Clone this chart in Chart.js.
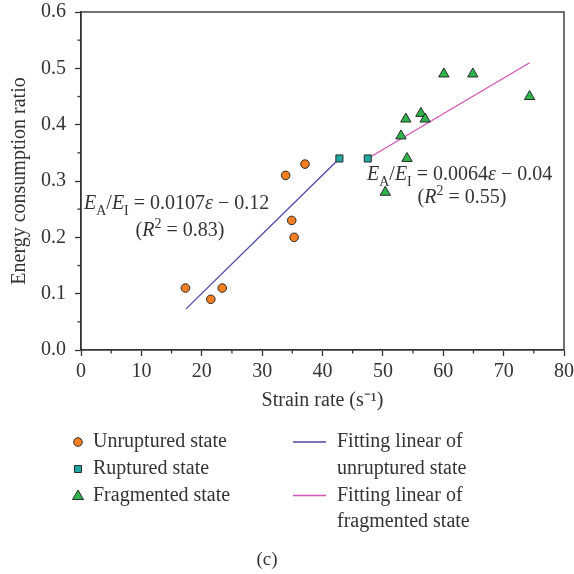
<!DOCTYPE html>
<html><head><meta charset="utf-8">
<script src="https://cdn.jsdelivr.net/npm/chart.js@4/dist/chart.umd.min.js"></script>
<style>
html,body{margin:0;padding:0;background:#fff;}
#wrap{position:relative;width:574px;height:574px;}
</style></head><body>
<div id="wrap"><canvas id="c" width="574" height="574"></canvas></div>
<script>
// ---- data ----
const unrupturedX = [17.3, 21.5, 23.4, 33.9, 37.1, 34.9, 35.3];
const unrupturedY = [0.11, 0.09, 0.11, 0.31, 0.33, 0.23, 0.20];
const rupturedX = [42.8, 47.5];
const rupturedY = [0.34, 0.34];
const fragmentedX = [50.4, 53.0, 53.8, 54.0, 56.3, 57.0, 60.1, 64.9, 74.3];
const fragmentedY = [0.28, 0.38, 0.41, 0.34, 0.42, 0.41, 0.49, 0.49, 0.45];
const fitUnrupturedX = [17.4, 42.8];
const fitUnrupturedY = [0.073, 0.34];
const fitFragmentedX = [47.5, 74.3];
const fitFragmentedY = [0.34, 0.51];
const xTicks = [0, 10, 20, 30, 40, 50, 60, 70, 80];
const yTicks = [0.0, 0.1, 0.2, 0.3, 0.4, 0.5, 0.6];
const seriesLabels = ["Unruptured state", "Ruptured state", "Fragmented state",
  "Fitting linear of unruptured state", "Fitting linear of fragmented state"];
const eq1 = {k: "0.0107", b: "0.12", r2: "0.83"};
const eq2 = {k: "0.0064", b: "0.04", r2: "0.55"};
const caption = "(c)";

const FONT = '"Liberation Serif", "Times New Roman", serif';
const TXT = '#333333';
const FS = 20;
const toPts = (xs, ys) => xs.map((x, i) => ({x, y: ys[i]}));

const COLORS = {
  unruptured: '#F47E20', ruptured: '#1FA8A0', fragmented: '#2DB34A',
  fit1: '#4A44A8', fit2: '#D354B6', edge: '#2b2b2b'
};

function drawMarker(ctx, style, x, y, fill) {
  ctx.save();
  ctx.fillStyle = fill; ctx.strokeStyle = COLORS.edge; ctx.lineWidth = 1;
  ctx.beginPath();
  if (style === 'circle') ctx.arc(x, y, 4.3, 0, Math.PI * 2);
  else if (style === 'rect') ctx.rect(x - 3.5, y - 3.5, 7, 7);
  else { ctx.moveTo(x, y - 5.5); ctx.lineTo(x + 5.5, y + 4); ctx.lineTo(x - 5.5, y + 4); ctx.closePath(); }
  ctx.fill(); ctx.stroke(); ctx.restore();
}

// draw rich text parts: {t, it, sub, sup}
function drawRich(ctx, parts, x, y, size, align) {
  const base = size, small = Math.round(size * 0.68);
  const fontFor = p => (p.it ? 'italic ' : '') + (p.sub || p.sup ? small : base) + 'px ' + FONT;
  let w = 0;
  parts.forEach(p => { ctx.font = fontFor(p); w += ctx.measureText(p.t).width; });
  let cx = align === 'center' ? x - w / 2 : x;
  ctx.textAlign = 'left'; ctx.textBaseline = 'alphabetic'; ctx.fillStyle = TXT;
  parts.forEach(p => {
    ctx.font = fontFor(p);
    let dy = p.sub ? size * 0.3 : (p.sup ? -size * 0.4 : 0);
    ctx.fillText(p.t, cx, y + dy);
    cx += ctx.measureText(p.t).width;
  });
}
function eqParts(e) {
  return [{t: 'E', it: 1}, {t: 'A', sub: 1}, {t: '/'}, {t: 'E', it: 1}, {t: 'I', sub: 1},
    {t: ' = ' + e.k}, {t: 'ε', it: 1}, {t: ' − ' + e.b}];
}
function r2Parts(e) {
  return [{t: '('}, {t: 'R', it: 1}, {t: '2', sup: 1}, {t: ' = ' + e.r2 + ')'}];
}

const extras = {
  id: 'extras',
  afterDraw(chart) {
    const ctx = chart.ctx, a = chart.chartArea;
    const xs = chart.scales.x, ys = chart.scales.y;
    ctx.save();
    // top & right frame
    ctx.strokeStyle = '#444'; ctx.lineWidth = 1.5;
    ctx.beginPath(); ctx.moveTo(a.left, a.top); ctx.lineTo(a.right, a.top); ctx.lineTo(a.right, a.bottom); ctx.stroke();
    // minor ticks
    ctx.strokeStyle = '#333'; ctx.lineWidth = 1.3;
    for (let v = 5; v < 80; v += 10) {
      const px = xs.getPixelForValue(v);
      ctx.beginPath(); ctx.moveTo(px, a.bottom); ctx.lineTo(px, a.bottom + 3.5); ctx.stroke();
    }
    for (let v = 0.05; v < 0.6; v += 0.1) {
      const py = ys.getPixelForValue(v);
      ctx.beginPath(); ctx.moveTo(a.left, py); ctx.lineTo(a.left - 3.5, py); ctx.stroke();
    }
    // equations
    drawRich(ctx, eqParts(eq1), 84, 209, FS, 'left');
    drawRich(ctx, r2Parts(eq1), 180, 236, FS, 'center');
    drawRich(ctx, eqParts(eq2), 367, 180, FS, 'left');
    drawRich(ctx, r2Parts(eq2), 462, 203, FS, 'center');
    // legend
    const ds = chart.data.datasets;
    const rowY = [447, 474, 500.5, 527];
    ctx.textAlign = 'left'; ctx.textBaseline = 'alphabetic';
    for (let i = 0; i < 3; i++) {
      drawMarker(ctx, ds[i].pointStyle, 78, rowY[i] - 5, ds[i].backgroundColor);
      ctx.fillStyle = TXT; ctx.font = FS + 'px ' + FONT;
      ctx.fillText(ds[i].label, 93, rowY[i]);
    }
    [[3, 0], [4, 2]].forEach(([di, r]) => {
      ctx.strokeStyle = ds[di].borderColor; ctx.lineWidth = 1.6;
      ctx.beginPath(); ctx.moveTo(293, rowY[r] - 5); ctx.lineTo(326, rowY[r] - 5); ctx.stroke();
      const lab = ds[di].label, k = lab.indexOf(' of ') + 3;
      ctx.fillStyle = TXT; ctx.font = FS + 'px ' + FONT;
      ctx.fillText(lab.slice(0, k), 337, rowY[r]);
      ctx.fillText(lab.slice(k + 1), 337, rowY[r + 1]);
    });
    // caption
    ctx.textAlign = 'center'; ctx.font = '19px ' + FONT;
    ctx.fillText(caption, 267, 565);
    ctx.restore();
  }
};

const scatterDs = (label, xs, ys, style, color, r) => ({
  type: 'scatter', label, data: toPts(xs, ys), pointStyle: style, pointRadius: r,
  pointHoverRadius: r, backgroundColor: color, borderColor: COLORS.edge, borderWidth: 1, order: 1
});
const lineDs = (label, xs, ys, color) => ({
  type: 'line', label, data: toPts(xs, ys), borderColor: color, backgroundColor: color,
  borderWidth: 1.3, pointRadius: 0, fill: false, tension: 0, order: 2
});

new Chart(document.getElementById('c'), {
  type: 'scatter',
  data: {
    datasets: [
      scatterDs(seriesLabels[0], unrupturedX, unrupturedY, 'circle', COLORS.unruptured, 4.3),
      scatterDs(seriesLabels[1], rupturedX, rupturedY, 'rect', COLORS.ruptured, 5),
      scatterDs(seriesLabels[2], fragmentedX, fragmentedY, 'triangle', COLORS.fragmented, 6),
      lineDs(seriesLabels[3], fitUnrupturedX, fitUnrupturedY, COLORS.fit1),
      lineDs(seriesLabels[4], fitFragmentedX, fitFragmentedY, COLORS.fit2)
    ]
  },
  options: {
    responsive: false, animation: false, devicePixelRatio: 1,
    layout: {padding: {left: 0, right: 10, top: 12, bottom: 161}},
    plugins: {legend: {display: false}, tooltip: {enabled: false}},
    scales: {
      x: {
        type: 'linear', min: 0, max: 80,
        afterBuildTicks: s => { s.ticks = xTicks.map(v => ({value: v})); },
        afterFit: s => { s.height = 63; s.paddingLeft = 0; s.paddingRight = 0; },
        grid: {display: true, drawOnChartArea: false, drawTicks: true, tickLength: 6, tickColor: '#333', tickWidth: 1.3},
        border: {display: true, color: '#333', width: 1.8},
        ticks: {color: TXT, font: {family: FONT, size: FS}, padding: 4, maxRotation: 0},
        title: {display: true, text: 'Strain rate (s⁻¹)', color: TXT, font: {family: FONT, size: FS}, padding: {top: 0, bottom: 0}}
      },
      y: {
        type: 'linear', min: 0, max: 0.6,
        afterBuildTicks: s => { s.ticks = yTicks.map(v => ({value: v})); },
        afterFit: s => { s.width = 81; s.paddingTop = 0; s.paddingBottom = 0; },
        grid: {display: true, drawOnChartArea: false, drawTicks: true, tickLength: 6, tickColor: '#333', tickWidth: 1.3},
        border: {display: true, color: '#333', width: 1.8},
        ticks: {color: TXT, font: {family: FONT, size: FS}, padding: 9, callback: v => Number(v).toFixed(1)},
        title: {display: true, text: 'Energy consumption ratio', color: TXT, font: {family: FONT, size: FS}, padding: {top: 8, bottom: 0}}
      }
    }
  },
  plugins: [extras]
});
</script>
</body></html>
